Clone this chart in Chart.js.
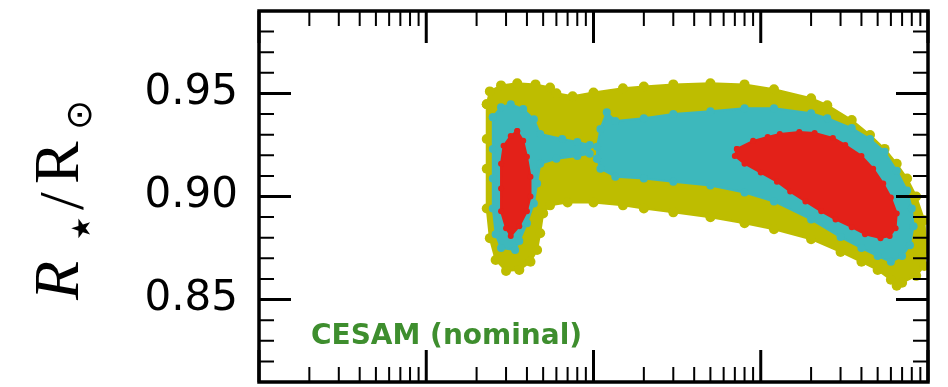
<!DOCTYPE html>
<html>
<head>
<meta charset="utf-8">
<script src="https://cdn.jsdelivr.net/npm/chart.js@4.4.1/dist/chart.umd.min.js"></script>
<style>
html,body{margin:0;padding:0;background:#fff;overflow:hidden}
#wrap{width:948px;height:387px}
</style>
</head>
<body>
<div id="wrap"><canvas id="c" width="948" height="387"></canvas></div>
<script>
// ---- data (x on a log axis, y = R*/Rsun) ----
const yellowRegion = [[23,0.9448],[24,0.9510],[28,0.9539],[35,0.9549],[45,0.9544],[55,0.9529],[60,0.9501],[75,0.9486],[100,0.9505],[150,0.9525],[200,0.9534],[300,0.9544],[500,0.9549],[800,0.9544],[1200,0.9520],[2000,0.9477],[2500,0.9443],[3500,0.9371],[4500,0.9298],[5500,0.9231],[6500,0.9159],[7500,0.9087],[8500,0.9000],[9500,0.8885],[9800,0.8750],[9500,0.8663],[8500,0.8615],[7000,0.8582],[6500,0.8567],[6000,0.8596],[5000,0.8644],[4000,0.8683],[3000,0.8731],[2000,0.8793],[1200,0.8841],[800,0.8870],[500,0.8899],[300,0.8923],[200,0.8942],[150,0.8957],[100,0.8971],[70,0.8971],[55,0.8957],[50,0.8918],[48,0.8822],[46,0.8740],[42,0.8683],[36,0.8644],[30,0.8639],[26,0.8692],[24,0.8798],[23,0.8942],[23,0.9135],[23,0.9279],[23,0.9448]];
const tealLeft = [[25,0.9385],[28,0.9433],[32,0.9448],[38,0.9424],[44,0.9375],[48,0.9303],[65,0.9279],[80,0.9265],[95,0.9250],[95,0.9207],[80,0.9197],[60,0.9183],[48,0.9159],[46,0.9063],[44,0.8966],[40,0.8870],[36,0.8784],[34,0.8740],[28,0.8750],[26,0.8817],[25,0.8942],[25,0.9087],[25,0.9231],[25,0.9385]];
const tealRight = [[105,0.9183],[105,0.9241],[110,0.9327],[120,0.9409],[135,0.9366],[200,0.9380],[300,0.9400],[500,0.9414],[800,0.9428],[1200,0.9428],[2000,0.9404],[2500,0.9380],[3500,0.9332],[4500,0.9279],[5500,0.9217],[6500,0.9125],[7500,0.9029],[8000,0.8942],[8200,0.8856],[7800,0.8764],[7000,0.8711],[6000,0.8683],[5000,0.8711],[4000,0.8750],[3000,0.8803],[2000,0.8889],[1200,0.8976],[800,0.9019],[500,0.9053],[300,0.9072],[200,0.9087],[135,0.9096],[110,0.9135],[105,0.9183]];
const redLeft = [[35,0.9318],[38,0.9270],[40,0.9193],[42,0.9096],[42,0.9000],[40,0.8928],[36,0.8856],[32,0.8808],[30,0.8846],[28,0.8928],[28,0.9039],[28,0.9159],[29,0.9246],[32,0.9294],[35,0.9318]];
const redRight = [[720,0.9231],[900,0.9270],[1100,0.9289],[1300,0.9303],[1700,0.9313],[2100,0.9308],[2700,0.9284],[3200,0.9250],[4000,0.9197],[4700,0.9135],[5400,0.9063],[6000,0.8995],[6500,0.8918],[6400,0.8846],[5900,0.8808],[5200,0.8798],[4200,0.8817],[3500,0.8851],[2800,0.8889],[2300,0.8928],[1850,0.8976],[1500,0.9024],[1250,0.9072],[1000,0.9116],[800,0.9159],[700,0.9197],[720,0.9231]];

const yMajorTicks = [0.85, 0.90, 0.95];
const xDecades = [1, 10, 100, 1000, 10000];
const annotationText = 'CESAM (nominal)';

const YELLOW = '#bebd00', TEAL = '#3db8bc', RED = '#e32119';

function region(pts, color, r) {
  return {
    data: pts.map(([x, y]) => ({x, y})),
    showLine: true, fill: 'shape', tension: 0,
    backgroundColor: color, borderColor: color, borderWidth: 2, borderJoinStyle: 'round',
    pointRadius: r, pointBackgroundColor: color, pointBorderWidth: 0, pointHoverRadius: r
  };
}

const frameTicks = {
  id: 'frameTicks',
  afterDatasetsDraw(chart) {
    const {ctx, chartArea: a, scales: {x, y}} = chart;
    const MAJ = 32, MIN = 15;
    ctx.save();
    ctx.strokeStyle = '#000';
    ctx.lineCap = 'butt';
    const vt = (px, len, w) => { ctx.lineWidth = w; ctx.beginPath(); ctx.moveTo(px, a.top); ctx.lineTo(px, a.top + len); ctx.moveTo(px, a.bottom); ctx.lineTo(px, a.bottom - len); ctx.stroke(); };
    const ht = (py, len, w) => { ctx.lineWidth = w; ctx.beginPath(); ctx.moveTo(a.left, py); ctx.lineTo(a.left + len, py); ctx.moveTo(a.right, py); ctx.lineTo(a.right - len, py); ctx.stroke(); };
    xDecades.forEach((d, i) => {
      vt(x.getPixelForValue(d), MAJ, 3);
      if (i < xDecades.length - 1) for (let m = 2; m <= 9; m++) vt(x.getPixelForValue(d * m), MIN, 2);
    });
    for (let i = 81; i <= 99; i++) {
      const v = i / 100;
      const isMaj = yMajorTicks.some(t => Math.abs(t - v) < 1e-9);
      ht(y.getPixelForValue(v), isMaj ? MAJ : MIN, isMaj ? 3 : 2);
    }
    ctx.lineWidth = 3.5;
    ctx.strokeRect(a.left, a.top, a.right - a.left, a.bottom - a.top);
    ctx.restore();
  }
};

const textLabels = {
  id: 'textLabels',
  afterDraw(chart) {
    const ctx = chart.ctx;
    ctx.save();
    ctx.fillStyle = '#000';
    ctx.translate(78, 298);
    ctx.rotate(-Math.PI / 2);
    ctx.textBaseline = 'alphabetic';
    ctx.textAlign = 'left';
    ctx.font = "italic 64px 'Liberation Serif'";
    ctx.fillText('R', -2, 0);
    ctx.font = "26px 'DejaVu Sans'";
    ctx.fillText('\u2605', 58, 12);
    ctx.font = "64px 'Liberation Serif'";
    ctx.fillText('/', 88, 5);
    ctx.fillText('R', 114, 0);
    ctx.font = "36px 'DejaVu Sans'";
    ctx.fillText('\u2299', 168, 13);
    ctx.restore();
    ctx.save();
    ctx.font = "bold 28px 'DejaVu Sans'";
    ctx.fillStyle = '#3e8e2e';
    ctx.textBaseline = 'alphabetic';
    ctx.fillText(annotationText, 311, 344);
    ctx.restore();
  }
};

new Chart(document.getElementById('c'), {
  type: 'scatter',
  data: {
    datasets: [
      region(redLeft, RED, 3),
      region(redRight, RED, 3),
      region(tealLeft, TEAL, 4),
      region(tealRight, TEAL, 4),
      region(yellowRegion, YELLOW, 5)
    ]
  },
  options: {
    responsive: false,
    animation: false,
    events: [],
    layout: {padding: {left: 0, top: 11, right: 20, bottom: 1}},
    plugins: {legend: {display: false}, tooltip: {enabled: false}},
    scales: {
      x: {type: 'logarithmic', min: 1, max: 10000, display: false},
      y: {
        min: 0.81, max: 0.99,
        afterFit(s) { s.width = 259; s.paddingTop = 0; s.paddingBottom = 0; },
        afterBuildTicks(s) { s.ticks = yMajorTicks.map(v => ({value: v})); },
        grid: {display: false, drawTicks: false},
        border: {display: false},
        ticks: {padding: 21, color: '#000', font: {family: "'DejaVu Sans'", size: 42}, callback: v => v.toFixed(2)}
      }
    }
  },
  plugins: [frameTicks, textLabels]
});
</script>
</body>
</html>
